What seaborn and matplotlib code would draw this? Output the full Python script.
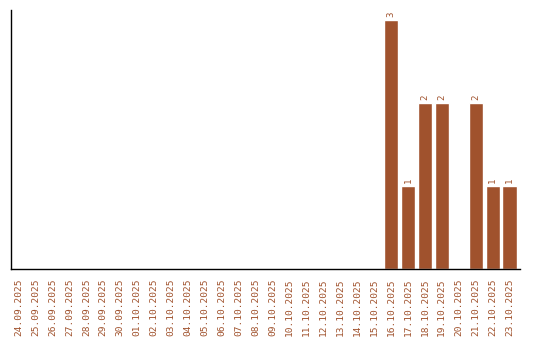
import matplotlib
matplotlib.use("Agg")
import matplotlib.pyplot as plt
import seaborn as sns
import pandas as pd

dates = ["24.09.2025", "25.09.2025", "26.09.2025", "27.09.2025", "28.09.2025",
         "29.09.2025", "30.09.2025", "01.10.2025", "02.10.2025", "03.10.2025",
         "04.10.2025", "05.10.2025", "06.10.2025", "07.10.2025", "08.10.2025",
         "09.10.2025", "10.10.2025", "11.10.2025", "12.10.2025", "13.10.2025",
         "14.10.2025", "15.10.2025", "16.10.2025", "17.10.2025", "18.10.2025",
         "19.10.2025", "20.10.2025", "21.10.2025", "22.10.2025", "23.10.2025"]
counts = [0, 0, 0, 0, 0, 0, 0, 0, 0, 0, 0, 0, 0, 0, 0, 0, 0, 0, 0, 0, 0, 0,
          3, 1, 2, 2, 0, 2, 1, 1]

df = pd.DataFrame({"date": dates, "count": counts})

sns.set_theme(style="white")
plt.rcParams['font.family'] = ['DejaVu Sans Mono', 'DejaVu Sans']

color = "#A0522D"
fig = plt.figure(figsize=(5.4, 3.4), dpi=100)
ax = fig.add_axes([11/540, 71/340, 509/540, 259/340])
sns.barplot(data=df, x="date", y="count", color=color, width=0.83,
            saturation=1, ax=ax)

for i, v in enumerate(counts):
    if v > 0:
        ax.text(i, v + 0.03, str(v), rotation=90, ha="center", va="bottom",
                fontsize=6.5, color=color)

ax.set_xlim(-0.45, 29.62)
ax.set_ylim(0, 3.12)
ax.set_xlabel("")
ax.set_ylabel("")
ax.set_yticks([])
ax.tick_params(axis="x", length=0, pad=7, labelsize=6.8, labelcolor=color,
               rotation=90)
for s in ["top", "right"]:
    ax.spines[s].set_visible(False)
for s in ["left", "bottom"]:
    ax.spines[s].set_color("black")
    ax.spines[s].set_linewidth(1)

fig.savefig("out.png", dpi=100)
